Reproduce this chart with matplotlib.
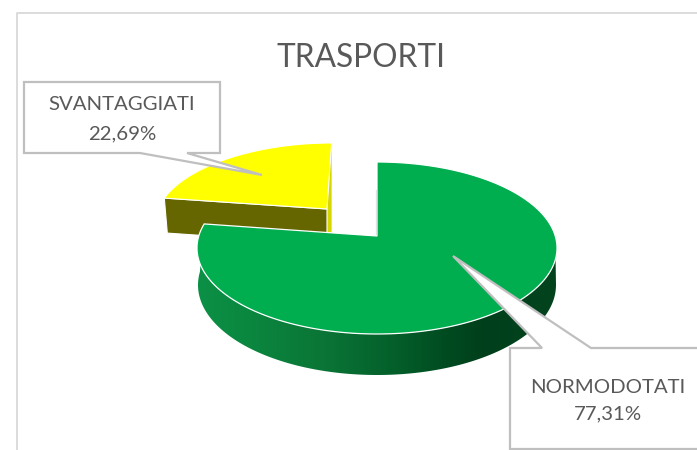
import numpy as np
import matplotlib
matplotlib.use("Agg")
import matplotlib.pyplot as plt
from matplotlib.colors import LinearSegmentedColormap
from matplotlib.patches import Polygon

titolo = "TRASPORTI"
categorie = ["NORMODOTATI", "SVANTAGGIATI"]
valori = [77.31, 22.69]

GRIGIO = "#595959"
BORDO = "#BFBFBF"

plt.rcParams['font.family'] = ['Lato', 'DejaVu Sans']


def bordo(th, apice, centro, a, b, shear=0.0):
    # punto sul bordo dell'ellisse lungo il raggio che parte dall'apice
    dx = np.cos(th) * a
    dy = -np.sin(th) * b
    ox = (apice[0] - centro[0]) / a
    oy = (apice[1] - centro[1]) / b
    qa = (dx / a) ** 2 + (dy / b) ** 2
    qb = 2 * (ox * dx / a + oy * dy / b)
    qc = ox ** 2 + oy ** 2 - 1
    t = (-qb + np.sqrt(qb ** 2 - 4 * qa * qc)) / (2 * qa)
    x = apice[0] + t * dx
    y = apice[1] + t * dy
    return x + shear * (apice[1] - y), y


def arco(th1, th2, apice, centro, a, b, shear=0.0):
    ths = np.linspace(th1, th2, 200)
    xs, ys = bordo(ths, apice, centro, a, b, shear)
    return np.column_stack([xs, ys])


fig = plt.figure(figsize=(6.97, 4.5), dpi=100)
ax = fig.add_axes([0, 0, 1, 1])
ax.axis('off')

# angoli delle fette, in senso orario dall'alto
fine_verde = np.pi / 2 - 2 * np.pi * valori[0] / sum(valori)
th_verde = fine_verde + 2 * np.pi
inizio_verde = np.pi / 2

# fetta gialla, staccata dal resto
ap_g = (327, 209)
cen_g = (327, 221)
arco_g = arco(th_verde, inizio_verde, ap_g, cen_g, 171, 78, 0.07)
sx, dx = arco_g[0], arco_g[-1]
ax.add_patch(Polygon([ap_g, dx, dx + [0, 88], (ap_g[0], ap_g[1] + 35)], fc="#D6D600", ec="none", zorder=1))
ax.add_patch(Polygon([ap_g, sx, sx + [3, 35], (ap_g[0], ap_g[1] + 35)], fc="#666600", ec="white", lw=0.8, zorder=2))
ax.add_patch(Polygon(np.vstack([[ap_g], arco_g]), fc="#FFFF00", ec="white", lw=0.8, zorder=3))

# parete laterale verde con sfumatura
ap_v = (377, 236)
cen_v = (377, 248)
a_v, b_v = 180, 86
sup = arco(fine_verde, 0, ap_v, cen_v, a_v, b_v)
ths = np.linspace(0, fine_verde, 200)
inf = np.column_stack([377 + 179 * np.cos(ths), 285 - 90 * np.sin(ths)])
parete = Polygon(np.vstack([sup, inf]), fc="none", ec="none", zorder=4)
ax.add_patch(parete)
cmap = LinearSegmentedColormap.from_list("parete", [
    (0.0, "#0C9046"), (0.15, "#0A863F"), (0.35, "#0A7536"), (0.55, "#045F2A"),
    (0.70, "#004A20"), (0.80, "#003F1B"), (1.0, "#03441E")])
img = ax.imshow(np.linspace(0, 1, 360).reshape(1, -1), extent=(197, 557, 380, 240),
                cmap=cmap, aspect='auto', zorder=4)
img.set_clip_path(parete)

# piano superiore verde
arco_v = arco(fine_verde, inizio_verde, ap_v, cen_v, a_v, b_v)
ax.plot([ap_v[0] - 1, ap_v[0] - 1], [190, 236], color="#A9B5AE", lw=0.8, zorder=5)
ax.add_patch(Polygon(np.vstack([[ap_v], arco_v]), fc="#00AE50", ec="white", lw=0.9, zorder=5))

# titolo
ax.text(361, 58, titolo, ha='center', va='center', fontsize=22.8, color=GRIGIO, zorder=8)

# cornice del grafico
ax.plot([17, 17, 697], [450, 13, 13], color="#D9D9D9", lw=1.3, zorder=6)

# etichette con il fumetto
fumetto1 = [(24, 82), (220, 82), (220, 153), (187, 153), (262, 175), (140, 153), (24, 153)]
ax.add_patch(Polygon(fumetto1, fc="white", ec=BORDO, lw=1.6, joinstyle='miter', zorder=7))
fumetto2 = [(510, 348), (542, 348), (453, 256), (591, 348), (710, 348), (710, 449), (510, 449)]
ax.add_patch(Polygon(fumetto2, fc="white", ec=BORDO, lw=1.6, joinstyle='miter', zorder=7))

pos_etichette = [(607.5, 400.5), (122, 119)]
interlinea = [1.7, 1.86]
for nome, v, (x, y), il in zip(categorie, valori, pos_etichette, interlinea):
    testo = nome + "\n" + f"{v:.2f}".replace(".", ",") + "%"
    ax.text(x, y, testo, ha='center', va='center', fontsize=14.7, color=GRIGIO,
            linespacing=il, zorder=8)

ax.set_xlim(0, 697)
ax.set_ylim(450, 0)
fig.savefig("out.png", dpi=100)
